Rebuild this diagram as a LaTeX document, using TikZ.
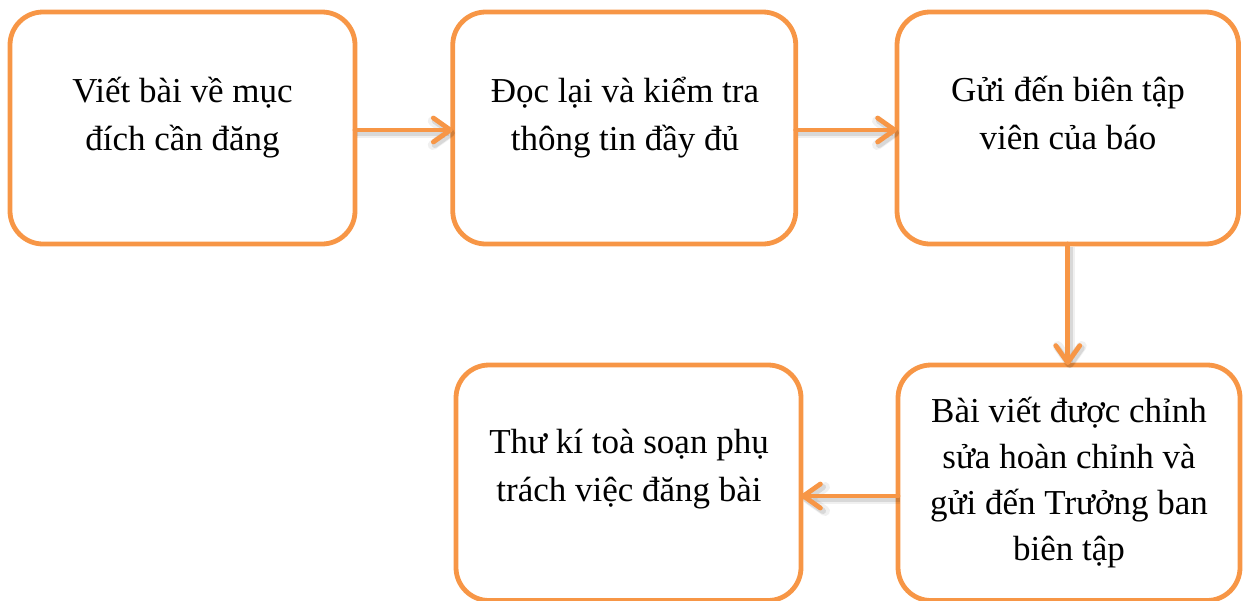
\documentclass[tikz,border=0pt]{standalone}
\usepackage{fontspec}
\setmainfont{Liberation Serif}
\usetikzlibrary{arrows.meta}
\definecolor{accent}{HTML}{F79646}
\begin{document}
\begin{tikzpicture}[x=1pt,y=-1pt,
  stepbox/.style={draw=accent, line width=4.8pt, rounded corners=33pt,
    inner sep=0pt, outer sep=0pt, minimum width=343pt, minimum height=232pt},
  txt/.style={align=center, inner sep=0pt,
    font=\fontsize{35}{48}\selectfont},
  tip/.style={-{Straight Barb[length=17pt,width=24pt,line cap=round,line join=round]}},
  flow/.style={draw=accent, line width=4.8pt, line cap=round, tip,
    preaction={draw=black, opacity=0.06, line width=10pt,
      transform canvas={xshift=2pt,yshift=-3pt}},
    preaction={draw=black, opacity=0.10, line width=6pt,
      transform canvas={xshift=2pt,yshift=-3pt}}}
]
\useasboundingbox (0,0) rectangle (1246,600);

% process boxes
\node[stepbox, minimum width=345pt] (b1) at (182.5,128) {};
\node[stepbox] (b2) at (624.25,128) {};
\node[stepbox, minimum width=341.5pt] (b3) at (1067.75,128) {};
\node[stepbox, minimum width=345pt, minimum height=235.5pt] (b4) at (628.5,482.75) {};
\node[stepbox, minimum width=342pt, minimum height=235.5pt] (b5) at (1069,482.75) {};

% labels
\node[txt] (t1) at (182.5,117.5) {Viết bài về mục\\đích cần đăng};
\node[txt] (t2) at (625,117.5) {Đọc lại và kiểm tra\\thông tin đầy đủ};
\node[txt] (t3) at (1068,112.5) {Gửi đến biên tập\\viên của báo};
\node[txt] (t4) at (629,469.5) {Thư kí toà soạn phụ\\trách việc đăng bài};
\node[txt, font=\fontsize{35}{46}\selectfont] (t5) at (1069,483)
  {Bài viết được chỉnh\\sửa hoàn chỉnh và\\gửi đến Trưởng ban\\biên tập};

% connectors
\draw[flow] (b1.east |- 0,130) -- (b2.west |- 0,130);
\draw[flow] (b2.east |- 0,130) -- (b3.west |- 0,130);
\draw[flow] (b3.south) -- (b3.south |- b5.north);
\draw[flow] (b5.west |- 0,496) -- (b4.east |- 0,496);
\end{tikzpicture}
\end{document}
